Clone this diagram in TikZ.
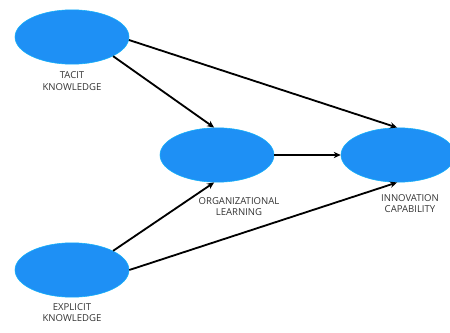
\documentclass[tikz,border=0pt]{standalone}
\usepackage{fontspec}
\setmainfont{Open Sans}
\definecolor{cBlue}{HTML}{1E90F5}
\definecolor{cText}{HTML}{333333}
\usetikzlibrary{positioning,arrows.meta,shapes.geometric}

\begin{document}
\begin{tikzpicture}[
  lv/.style={ellipse, fill=cBlue, draw=cBlue!70!cyan, line width=0.4pt, minimum width=2.85cm, minimum height=1.36cm, inner sep=0pt},
  lbl/.style={font=\fontsize{6.8}{8}\selectfont, text=cText, align=center, inner sep=0pt},
  path/.style={-{Stealth[length=5pt,width=4.5pt]}, line width=1.3pt, black}]
\useasboundingbox (0,0) rectangle (11.25,8.3);
\node[lv] (tacit) at (1.8,7.375) {};
\node[lv] (org) at (5.425,4.425) {};
\node[lv] (innov) at (9.95,4.425) {};
\node[lv] (expl) at (1.8,1.55) {};
\node[lbl, below=0.18cm of tacit] (tacitlbl) {TACIT\\KNOWLEDGE};
\node[lbl, below=0.36cm of org, xshift=0.55cm] (orglbl) {ORGANIZATIONAL\\LEARNING};
\node[lbl, below=0.3cm of innov, xshift=0.3cm] (innovlbl) {INNOVATION\\CAPABILITY};
\node[lbl, below=0.15cm of expl] (expllbl) {EXPLICIT\\KNOWLEDGE};
\draw[path] (tacit.-3) -- (innov.92);
\draw[path] (tacit.-25) -- (org.96);
\draw[path] (org.east) -- (innov.west);
\draw[path] (expl.25) -- (org.264);
\draw[path] (expl.east) -- (innov.268);
\end{tikzpicture}
\end{document}
